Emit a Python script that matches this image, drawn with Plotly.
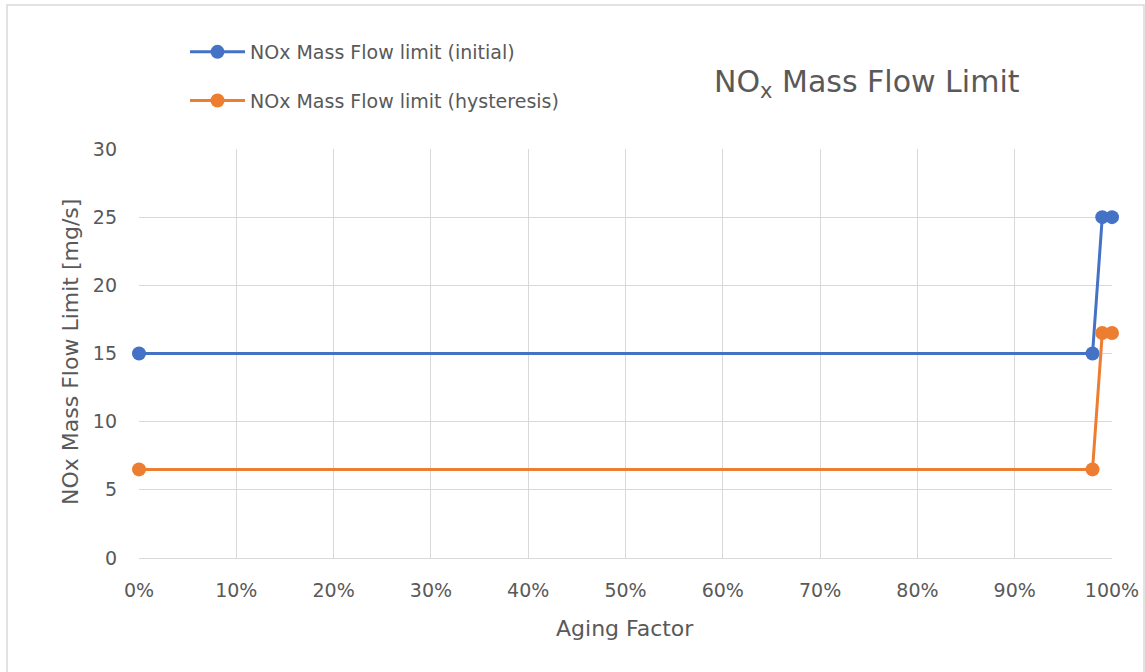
import plotly.graph_objects as go

# Aging factor (fraction) and NOx mass flow limits in mg/s
aging_initial = [0.0, 0.98, 0.99, 1.0]
limit_initial = [15, 15, 25, 25]

aging_hysteresis = [0.0, 0.98, 0.99, 1.0]
limit_hysteresis = [6.5, 6.5, 16.5, 16.5]

series_names = ["NOx Mass Flow limit (initial)", "NOx Mass Flow limit (hysteresis)"]
series_colors = ["#4472C4", "#ED7D31"]

FONT = "DejaVu Sans, sans-serif"
GRAY = "#595959"

fig = go.Figure()
for i, (xs, ys) in enumerate([(aging_initial, limit_initial), (aging_hysteresis, limit_hysteresis)]):
    fig.add_trace(go.Scatter(
        x=xs, y=ys, mode="lines+markers", name=series_names[i],
        legendgroup=f"g{i}",
        line=dict(color=series_colors[i], width=3),
        marker=dict(color=series_colors[i], size=14),
        cliponaxis=False,
    ))

W, H = 1145, 672
L, R, T, B = 139, 33, 149, 114
pw, ph = W - L - R, H - T - B

def px_x(x):
    return (x - L) / pw

def px_y(y):
    return (H - B - y) / ph

fig.update_layout(
    width=W, height=H,
    margin=dict(l=L, r=R, t=T, b=B, autoexpand=False),
    paper_bgcolor="white", plot_bgcolor="white",
    font=dict(family=FONT, color=GRAY, size=19),
    showlegend=True,
    legend=dict(
        x=px_x(185), y=px_y(33), xanchor="left", yanchor="top",
        font=dict(size=19, color=GRAY, family=FONT),
        traceorder="grouped", tracegroupgap=21, itemwidth=55,
        bgcolor="rgba(0,0,0,0)",
    ),
    xaxis=dict(
        range=[0, 1], dtick=0.1, tick0=0, tickformat=".0%",
        showgrid=True, gridcolor="#D9D9D9", gridwidth=1,
        zeroline=False, showline=True, linecolor="#D9D9D9", mirror=False,
        automargin=False,
        ticks="", ticklabelstandoff=15, tickfont=dict(size=19, color=GRAY),
    ),
    yaxis=dict(
        range=[0, 30], dtick=5, tick0=0,
        showgrid=True, gridcolor="#D9D9D9", gridwidth=1,
        zeroline=False, showline=False, automargin=False,
        ticks="", ticklabelstandoff=21, tickfont=dict(size=19, color=GRAY),
    ),
    annotations=[
        dict(
            text="NO<sub>x</sub> Mass Flow Limit",
            xref="paper", yref="paper", x=px_x(867), y=px_y(83),
            xanchor="center", yanchor="middle", showarrow=False,
            font=dict(size=30, color=GRAY, family=FONT),
        ),
        dict(
            text="Aging Factor",
            xref="paper", yref="paper", x=px_x(625), y=px_y(628),
            xanchor="center", yanchor="middle", showarrow=False,
            font=dict(size=22, color=GRAY, family=FONT),
        ),
        dict(
            text="NOx Mass Flow Limit [mg/s]",
            xref="paper", yref="paper", x=px_x(70), y=px_y(352),
            xanchor="center", yanchor="middle", showarrow=False, textangle=-90,
            font=dict(size=22, color=GRAY, family=FONT),
        ),
    ],
    shapes=[dict(
        type="rect", xref="paper", yref="paper",
        x0=px_x(7), x1=px_x(1144), y0=px_y(700), y1=px_y(5),
        line=dict(color="#D9D9D9", width=1.5), fillcolor="rgba(0,0,0,0)", layer="below",
    )],
)

fig.write_html("out.html")
